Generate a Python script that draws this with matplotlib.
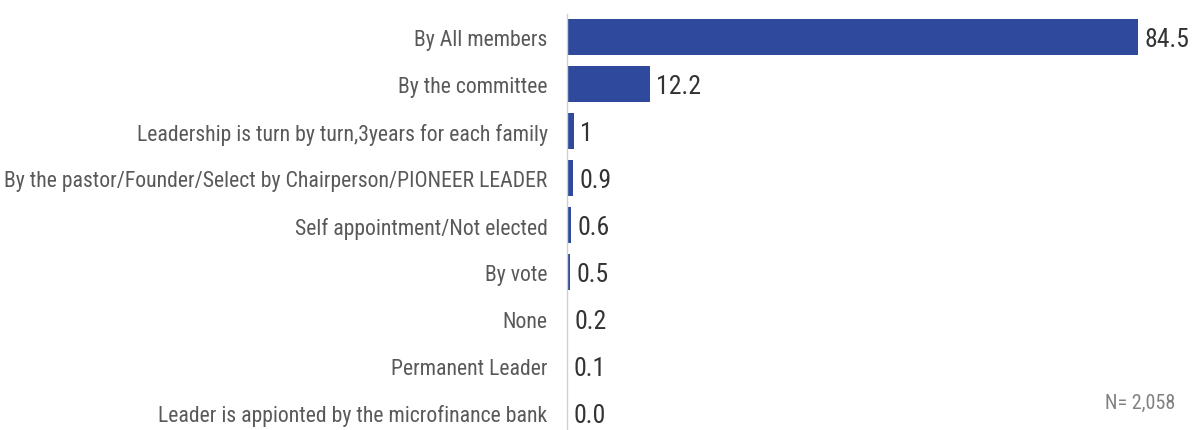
import matplotlib
matplotlib.use("Agg")
import matplotlib.pyplot as plt

categories = [
    "By All members",
    "By the committee",
    "Leadership is turn by turn,3years for each family",
    "By the pastor/Founder/Select by Chairperson/PIONEER LEADER",
    "Self appointment/Not elected",
    "By vote",
    "None",
    "Permanent Leader",
    "Leader is appionted by the microfinance bank",
]
values = [84.5, 12.2, 1.0, 0.9, 0.6, 0.5, 0.2, 0.1, 0.0]
value_labels = ["84.5", "12.2", "1", "0.9", "0.6", "0.5", "0.2", "0.1", "0.0"]
note = "N= 2,058"

plt.rcParams["font.family"] = ["Roboto Condensed", "Roboto", "DejaVu Sans"]

fig = plt.figure(figsize=(11.92, 4.31), dpi=100)
ax = fig.add_axes([0.4757, -0.015, 0.5218, 0.981])

bar_color = "#2f4a9c"
y = list(range(len(categories)))
ax.barh(y, values, height=0.77, color=bar_color)
ax.set_ylim(len(categories) - 0.5, -0.5)
ax.set_xlim(0, 92)

for yi, v, lab in zip(y, values, value_labels):
    ax.annotate(lab, xy=(v, yi), xytext=(4.5, -1.2), textcoords="offset points",
                va="center", ha="left", fontsize=18.5, color="#333333")

ax.set_yticks(y)
ax.set_yticklabels(categories, fontsize=15.7, color="#595959")
ax.tick_params(axis="y", length=0, pad=14)
ax.set_xticks([])

for side in ["top", "right", "bottom"]:
    ax.spines[side].set_visible(False)
ax.spines["left"].set_color("#d0d0d0")
ax.spines["left"].set_linewidth(1)

fig.text(0.986, 0.065, note, ha="right", va="center", fontsize=14.5, color="#808080")

fig.savefig("out.png", dpi=100)
